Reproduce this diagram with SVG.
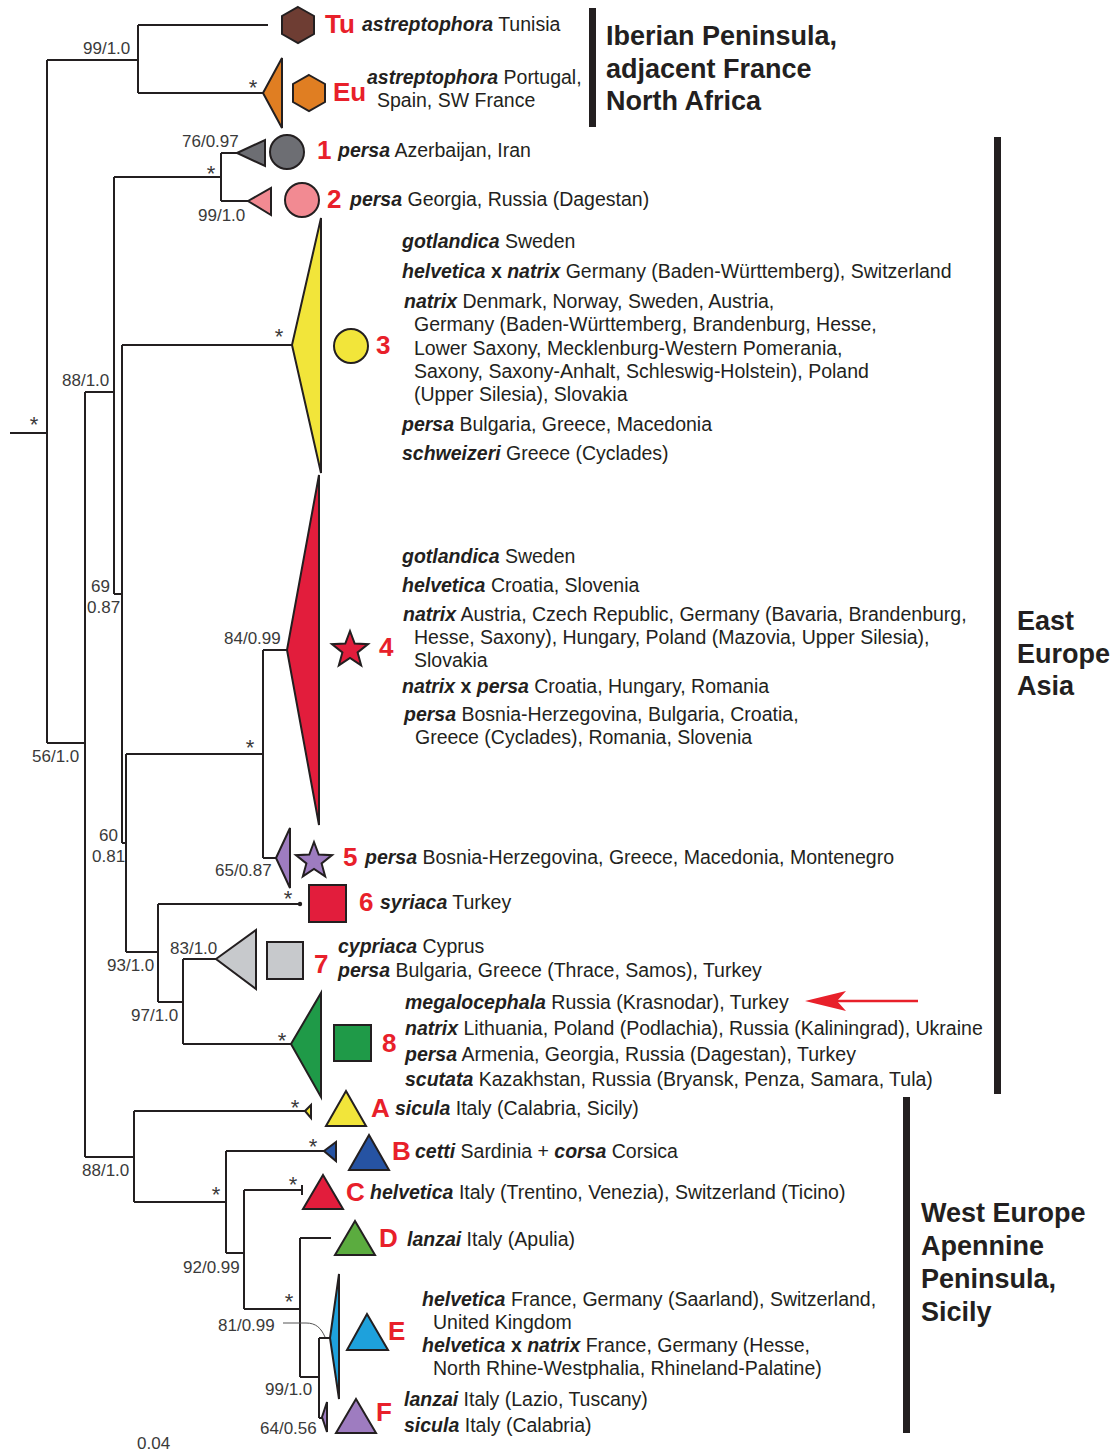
<svg xmlns="http://www.w3.org/2000/svg" width="1113" height="1454" viewBox="0 0 1113 1454">
<style>
text{font-family:"Liberation Sans",Arial,sans-serif;fill:#231f20}
.t{font-size:19.5px}
.bi{font-weight:bold;font-style:italic}
.n{font-size:26px;font-weight:bold;fill:#e8202a}
.s{font-size:17px;fill:#3a3a3a}
.a{font-size:22px;fill:#3a3a3a;text-anchor:middle}
.r{font-size:27px;font-weight:bold}
.ln{fill:none;stroke:#231f20;stroke-width:2}
.sh{stroke:#231f20;stroke-width:2;stroke-linejoin:miter}
.bar{fill:#231f20}
</style>
<defs>
<polygon id="star" points="0,-19 4.7,-6.47 18.07,-5.87 7.61,2.47 11.17,15.37 0,8 -11.17,15.37 -7.61,2.47 -18.07,-5.87 -4.7,-6.47"/>
</defs>
<rect width="1113" height="1454" fill="#ffffff"/>
<g id="connectors" class="ln">
<path d="M10 433H47M47 60V743M47 60H138M138 25V93M138 25H268M138 93H263"/>
<path d="M85 392V1157M47 743H85M85 392H114M114 177V594M114 177H221M221 153V201M221 153H237M221 201H248"/>
<path d="M114 594H122M122 345V843M122 345H292M122 843H126M126 754V952M126 754H263M263 650V858M263 650H287M263 858H276"/>
<path d="M126 952H158M158 904V1002M158 904H300M158 1002H183M183 959V1044M183 959H216M183 1044H291"/>
<path d="M85 1157H134M134 1111V1202M134 1111H305M134 1202H226M226 1151V1253M226 1151H324M226 1253H244M244 1190V1309M244 1190H302M302 1185V1195M244 1309H300M300 1238V1377M300 1238H331M300 1377H319M319 1338V1418M319 1338H330M319 1418H322"/>
<circle cx="300" cy="904" r="2.2" fill="#231f20" stroke="none"/>
<path d="M283 1323H306C316 1323 321 1328 325 1337" stroke-width="1" stroke="#555"/>
<path d="M918 1001H836" stroke="#e8202a" stroke-width="2.5"/>
<polygon points="805,1001 846,991 837,1001 846,1011" fill="#e8202a" stroke="none"/>
</g>
<g id="clade-tu">
<polygon class="sh" fill="#6e3d33" points="298,7 314,16 314,34 298,43 282,34 282,16"/>
<text x="325" y="33" class="n">Tu</text>
<text x="362" y="31" class="t"><tspan class="bi">astreptophora</tspan> Tunisia</text>
</g>
<g id="clade-eu">
<polygon class="sh" fill="#e07e22" points="263,93 282,58 282,128"/>
<polygon class="sh" fill="#e07e22" points="309,75 325,84 325,102 309,111 293,102 293,84"/>
<text x="333" y="101" class="n">Eu</text>
<text x="367" y="84" class="t"><tspan class="bi">astreptophora</tspan> Portugal,</text>
<text x="377" y="107" class="t">Spain, SW France</text>
</g>
<g id="clade-1">
<polygon class="sh" fill="#6d6e73" points="237,153 265,140 265,166"/>
<circle class="sh" fill="#6d6e73" cx="287" cy="152" r="17"/>
<text x="317" y="159" class="n">1</text>
<text x="338" y="157" class="t"><tspan class="bi">persa</tspan> Azerbaijan, Iran</text>
</g>
<g id="clade-2">
<polygon class="sh" fill="#f28a92" points="248,201 271,188 271,215"/>
<circle class="sh" fill="#f28a92" cx="302" cy="200" r="17"/>
<text x="327" y="208" class="n">2</text>
<text x="350" y="206" class="t"><tspan class="bi">persa</tspan> Georgia, Russia (Dagestan)</text>
</g>
<g id="clade-3">
<polygon class="sh" fill="#f2e53a" points="292,345 321,218 321,473"/>
<circle class="sh" fill="#f2e53a" cx="351" cy="346" r="17"/>
<text x="376" y="354" class="n">3</text>
<text x="402" y="248" class="t"><tspan class="bi">gotlandica</tspan> Sweden</text>
<text x="402" y="278" class="t"><tspan class="bi">helvetica</tspan> <tspan font-weight="bold">x</tspan> <tspan class="bi">natrix</tspan> Germany (Baden-Württemberg), Switzerland</text>
<text x="404" y="308" class="t"><tspan class="bi">natrix</tspan> Denmark, Norway, Sweden, Austria,</text>
<text x="414" y="331" class="t">Germany (Baden-Württemberg, Brandenburg, Hesse,</text>
<text x="414" y="355" class="t">Lower Saxony, Mecklenburg-Western Pomerania,</text>
<text x="414" y="378" class="t">Saxony, Saxony-Anhalt, Schleswig-Holstein), Poland</text>
<text x="414" y="401" class="t">(Upper Silesia), Slovakia</text>
<text x="402" y="431" class="t"><tspan class="bi">persa</tspan> Bulgaria, Greece, Macedonia</text>
<text x="402" y="460" class="t"><tspan class="bi">schweizeri</tspan> Greece (Cyclades)</text>
</g>
<g id="clade-4">
<polygon class="sh" fill="#e21d3c" points="287,650 319,475 319,825"/>
<use href="#star" x="350" y="650" fill="#e21d3c" stroke="#231f20" stroke-width="2"/>
<text x="379" y="656" class="n">4</text>
<text x="402" y="563" class="t"><tspan class="bi">gotlandica</tspan> Sweden</text>
<text x="402" y="592" class="t"><tspan class="bi">helvetica</tspan> Croatia, Slovenia</text>
<text x="403" y="621" class="t"><tspan class="bi">natrix</tspan> Austria, Czech Republic, Germany (Bavaria, Brandenburg,</text>
<text x="414" y="644" class="t">Hesse, Saxony), Hungary, Poland (Mazovia, Upper Silesia),</text>
<text x="414" y="667" class="t">Slovakia</text>
<text x="402" y="693" class="t"><tspan class="bi">natrix</tspan> <tspan font-weight="bold">x</tspan> <tspan class="bi">persa</tspan> Croatia, Hungary, Romania</text>
<text x="404" y="721" class="t"><tspan class="bi">persa</tspan> Bosnia-Herzegovina, Bulgaria, Croatia,</text>
<text x="415" y="744" class="t">Greece (Cyclades), Romania, Slovenia</text>
</g>
<g id="clade-5">
<polygon class="sh" fill="#9e7cc0" points="276,858 290,828 290,888"/>
<use href="#star" x="314" y="861" fill="#9e7cc0" stroke="#231f20" stroke-width="2"/>
<text x="343" y="866" class="n">5</text>
<text x="365" y="864" class="t"><tspan class="bi">persa</tspan> Bosnia-Herzegovina, Greece, Macedonia, Montenegro</text>
</g>
<g id="clade-6">
<rect class="sh" fill="#e21d3c" x="309" y="885" width="37" height="37"/>
<text x="359" y="911" class="n">6</text>
<text x="380" y="909" class="t"><tspan class="bi">syriaca</tspan> Turkey</text>
</g>
<g id="clade-7">
<polygon class="sh" fill="#c7c9cc" points="216,959 256,930 256,989"/>
<rect class="sh" fill="#c7c9cc" x="267" y="942" width="36" height="37"/>
<text x="314" y="973" class="n">7</text>
<text x="338" y="953" class="t"><tspan class="bi">cypriaca</tspan> Cyprus</text>
<text x="338" y="977" class="t"><tspan class="bi">persa</tspan> Bulgaria, Greece (Thrace, Samos), Turkey</text>
</g>
<g id="clade-8">
<polygon class="sh" fill="#1f9a48" points="291,1044 321,993 321,1097"/>
<rect class="sh" fill="#1f9a48" x="334" y="1025" width="37" height="36"/>
<text x="382" y="1052" class="n">8</text>
<text x="405" y="1009" class="t"><tspan class="bi">megalocephala</tspan> Russia (Krasnodar), Turkey</text>
<text x="405" y="1035" class="t"><tspan class="bi">natrix</tspan> Lithuania, Poland (Podlachia), Russia (Kaliningrad), Ukraine</text>
<text x="405" y="1061" class="t"><tspan class="bi">persa</tspan> Armenia, Georgia, Russia (Dagestan), Turkey</text>
<text x="405" y="1086" class="t"><tspan class="bi">scutata</tspan> Kazakhstan, Russia (Bryansk, Penza, Samara, Tula)</text>
</g>
<g id="clade-A">
<polygon class="sh" fill="#f2e53a" points="305,1111 311,1105 311,1118"/>
<polygon class="sh" fill="#f2e53a" points="346,1091 366,1126 326,1126"/>
<text x="371" y="1117" class="n">A</text>
<text x="395" y="1115" class="t"><tspan class="bi">sicula</tspan> Italy (Calabria, Sicily)</text>
</g>
<g id="clade-B">
<polygon class="sh" fill="#2653a3" points="324,1151 336,1142 336,1161"/>
<polygon class="sh" fill="#2653a3" points="369,1135 389,1170 349,1170"/>
<text x="392" y="1160" class="n">B</text>
<text x="415" y="1158" class="t"><tspan class="bi">cetti</tspan> Sardinia + <tspan class="bi">corsa</tspan> Corsica</text>
</g>
<g id="clade-C">
<polygon class="sh" fill="#e21d3c" points="323,1175 343,1209 303,1209"/>
<text x="346" y="1201" class="n">C</text>
<text x="370" y="1199" class="t"><tspan class="bi">helvetica</tspan> Italy (Trentino, Venezia), Switzerland (Ticino)</text>
</g>
<g id="clade-D">
<polygon class="sh" fill="#5bac3f" points="355,1221 375,1255 335,1255"/>
<text x="379" y="1247" class="n">D</text>
<text x="407" y="1246" class="t"><tspan class="bi">lanzai</tspan> Italy (Apulia)</text>
</g>
<g id="clade-E">
<polygon class="sh" fill="#1ea1dc" points="330,1338 339,1274 339,1399"/>
<polygon class="sh" fill="#1ea1dc" points="367,1314 388,1350 347,1350"/>
<text x="388" y="1340" class="n">E</text>
<text x="422" y="1306" class="t"><tspan class="bi">helvetica</tspan> France, Germany (Saarland), Switzerland,</text>
<text x="433" y="1329" class="t">United Kingdom</text>
<text x="422" y="1352" class="t"><tspan class="bi">helvetica</tspan> <tspan font-weight="bold">x</tspan> <tspan class="bi">natrix</tspan> France, Germany (Hesse,</text>
<text x="433" y="1375" class="t">North Rhine-Westphalia, Rhineland-Palatine)</text>
</g>
<g id="clade-F">
<polygon class="sh" fill="#9e7cc0" points="322,1417 327,1402 327,1432"/>
<polygon class="sh" fill="#9e7cc0" points="356,1399 376,1433 336,1433"/>
<text x="376" y="1421" class="n">F</text>
<text x="404" y="1406" class="t"><tspan class="bi">lanzai</tspan> Italy (Lazio, Tuscany)</text>
<text x="404" y="1432" class="t"><tspan class="bi">sicula</tspan> Italy (Calabria)</text>
</g>
<g id="supports">
<text x="83" y="54" class="s">99/1.0</text>
<text x="182" y="147" class="s">76/0.97</text>
<text x="198" y="221" class="s">99/1.0</text>
<text x="62" y="386" class="s">88/1.0</text>
<text x="91" y="592" class="s">69</text>
<text x="87" y="613" class="s">0.87</text>
<text x="32" y="762" class="s">56/1.0</text>
<text x="224" y="644" class="s">84/0.99</text>
<text x="99" y="841" class="s">60</text>
<text x="92" y="862" class="s">0.81</text>
<text x="215" y="876" class="s">65/0.87</text>
<text x="107" y="971" class="s">93/1.0</text>
<text x="170" y="954" class="s">83/1.0</text>
<text x="131" y="1021" class="s">97/1.0</text>
<text x="82" y="1176" class="s">88/1.0</text>
<text x="183" y="1273" class="s">92/0.99</text>
<text x="218" y="1331" class="s">81/0.99</text>
<text x="265" y="1395" class="s">99/1.0</text>
<text x="260" y="1434" class="s">64/0.56</text>
<text x="137" y="1449" class="s">0.04</text>
<text x="253" y="95" class="a">*</text>
<text x="211" y="181" class="a">*</text>
<text x="34" y="432" class="a">*</text>
<text x="279" y="344" class="a">*</text>
<text x="250" y="755" class="a">*</text>
<text x="288" y="906" class="a">*</text>
<text x="282" y="1048" class="a">*</text>
<text x="295" y="1115" class="a">*</text>
<text x="313" y="1154" class="a">*</text>
<text x="216" y="1202" class="a">*</text>
<text x="293" y="1192" class="a">*</text>
<text x="289" y="1309" class="a">*</text>
</g>
<g id="regions">
<rect class="bar" x="589" y="8" width="7" height="119"/>
<text x="606" y="45" class="r">Iberian Peninsula,</text>
<text x="606" y="78" class="r">adjacent France</text>
<text x="606" y="110" class="r">North Africa</text>
<rect class="bar" x="994" y="137" width="7" height="957"/>
<text x="1017" y="630" class="r">East</text>
<text x="1017" y="663" class="r">Europe</text>
<text x="1017" y="695" class="r">Asia</text>
<rect class="bar" x="903" y="1097" width="7" height="336"/>
<text x="921" y="1222" class="r">West Europe</text>
<text x="921" y="1255" class="r">Apennine</text>
<text x="921" y="1288" class="r">Peninsula,</text>
<text x="921" y="1321" class="r">Sicily</text>
</g>
</svg>
